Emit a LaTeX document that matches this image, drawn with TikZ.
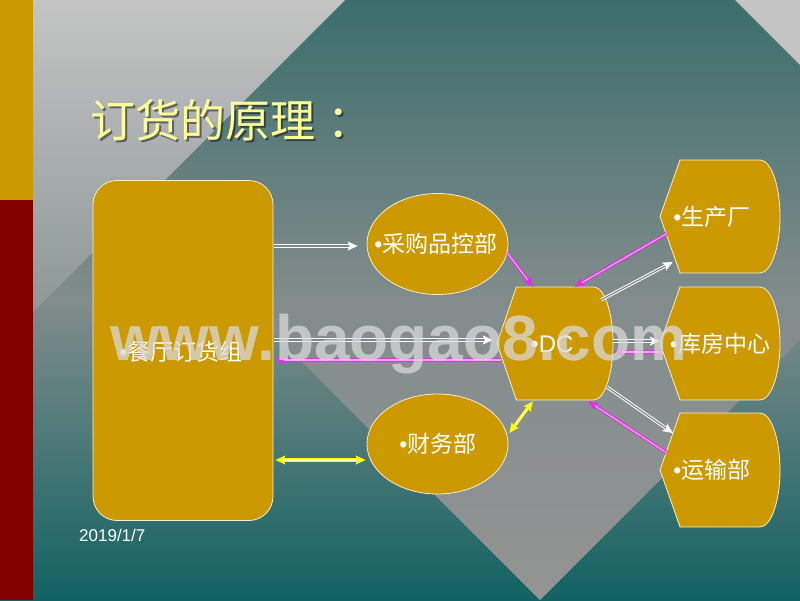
\documentclass[tikz,border=0pt]{standalone}
\usepackage{fontspec}
\setmainfont{Liberation Sans}
\newfontfamily\cjk{Noto Sans CJK SC}
\usetikzlibrary{arrows.meta,calc,shapes.geometric}
\definecolor{gold}{HTML}{CC9900}
\definecolor{darkred}{HTML}{800000}
\definecolor{tealtop}{HTML}{3B6E6C}
\definecolor{tealmid}{HTML}{828C8C}
\definecolor{tealbot}{HTML}{126262}
\definecolor{lgray}{HTML}{C4C4C4}
\definecolor{lgraybot}{HTML}{8E9797}
\definecolor{trigray}{HTML}{949494}
\definecolor{outl}{HTML}{F8EEC8}
\definecolor{titley}{HTML}{FFFF99}
\definecolor{gapc}{HTML}{7C8888}
\definecolor{magc}{HTML}{E62EE6}
\definecolor{maggap}{HTML}{F0A8F0}
\definecolor{yelc}{HTML}{FFFF00}
\definecolor{yelgap}{HTML}{FFFFB0}
\newcommand\dispshape[5]{%
  \draw[shp] (#2,{#3+#5/2}) -- ({#2+#4/6},#3) -- ({#2+#4*5/6},#3)
    .. controls ({#2+#4*5/6+0.5523*#4/6},#3) and ({#2+#4},{#3+#5/2-0.5523*#5/2}) .. ({#2+#4},{#3+#5/2})
    .. controls ({#2+#4},{#3+#5/2+0.5523*#5/2}) and ({#2+#4*5/6+0.5523*#4/6},{#3+#5}) .. ({#2+#4*5/6},{#3+#5})
    -- ({#2+#4/6},{#3+#5}) -- cycle;
  \node[minimum width=#4pt, minimum height=#5pt, inner sep=0pt] (#1) at ({#2+#4/2},{#3+#5/2}) {};}
\begin{document}
\begin{tikzpicture}[x=1pt,y=-1pt,
  shp/.style={fill=gold, draw=outl, line width=0.8pt},
  rrect/.style={shp, rectangle, rounded corners=24pt, inner sep=0pt},
  ell/.style={shp, ellipse, inner sep=0pt},
  lbl/.style={text=white, inner sep=0pt, font=\fontsize{23}{23}\selectfont},
  tip/.style={-{Stealth[length=10pt,width=9pt,inset=2pt]}},
  bitip/.style={{Stealth[length=10pt,width=9pt,inset=2pt]}-{Stealth[length=10pt,width=9pt,inset=2pt]}},
  wline/.style={draw=white, double=gapc, double distance=1.2pt, line width=1pt},
  mline/.style={draw=magc, double=maggap, double distance=1.2pt, line width=1pt},
  yline/.style={draw=yelc, double=yelgap, double distance=1.2pt, line width=1pt}]
\useasboundingbox (0,0) rectangle (800,600);
\clip (0,0) rectangle (800,600);
% background
\shade[shading=axis, top color=tealtop, bottom color=tealmid] (0,0) rectangle (800,300.5);
\shade[shading=axis, top color=tealmid, bottom color=tealbot] (0,300) rectangle (800,600);
\shade[shading=axis, top color=lgray, bottom color=lgraybot] (33,0) -- (345,0) -- (33,312) -- cycle;
\fill[lgray] (735,0) -- (800,0) -- (800,65) -- cycle;
\shade[shading=axis, top color=tealmid, bottom color=trigray] (240,300) -- (800,300) -- (800,340) -- (540,600) -- cycle;
\fill[gold] (0,0) rectangle (33,200);
\fill[darkred] (0,200) rectangle (33,600);
% title
\node[anchor=west, inner sep=0pt, text=black, text opacity=0.45, font=\cjk\fontsize{45}{45}\selectfont] (titleshadow) at (92.5,122.5) {订货的原理\kern12pt：};
\node[anchor=west, inner sep=0pt, text=titley, font=\cjk\fontsize{45}{45}\selectfont] (title) at (90,120) {订货的原理\kern12pt：};
% shapes
\node[rrect, minimum width=180pt, minimum height=340pt] (rest) at (183,350.5) {};
\node[lbl] (restt) at (181,352) {•{\cjk 餐厅订货组}};
\node[ell, minimum width=141pt, minimum height=101pt] (cg) at (437.5,244) {};
\node[lbl] (cgt) at (436,244) {•{\cjk 采购品控部}};
\node[ell, minimum width=141pt, minimum height=100pt] (cw) at (437.5,444) {};
\node[lbl] (cwt) at (438,444) {•{\cjk 财务部}};
\dispshape{dc}{497}{287}{116}{113}
\node[lbl, font=\fontsize{24}{24}\selectfont] (dct) at (552,344) {•DC};
\dispshape{sc}{660}{160}{120}{113}
\node[lbl] (sct) at (712,217) {•{\cjk 生产厂}};
\dispshape{kf}{660}{287}{120}{113}
\node[lbl] (kft) at (720,344) {•{\cjk 库房中心}};
\dispshape{ys}{660}{413}{120}{114}
\node[lbl] (yst) at (712,470) {•{\cjk 运输部}};
% connectors
\draw[wline, tip] ($(rest.east |- cg.west)+(1,2)$) -- ($(cg.west)+(-9,2)$);
\draw[wline, tip] ($(rest.east |- dc.west)+(1,-3.5)$) -- ($(dc.west)+(-4,-3.5)$);
\draw[mline, tip] ($(dc.west)+(4,16.5)$) -- ($(rest.east |- dc.west)+(2,16.5)$);
\draw[yline, bitip] ($(rest.east |- cw.west)+(2,16)$) -- ($(cw.west)+(-1,16)$);
\draw[yline, bitip] ($(cw.east)+(1,-11)$) -- ($(dc.south west)+(36,1)$);
\draw[mline, tip] ($(cg.east)+(-1,9)$) -- ($(dc.north west)+(36,0)$);
\draw[mline, tip] ($(sc.west)+(7,17)$) -- ($(dc.north west)+(78,0)$);
\draw[wline, tip] ($(dc.north east)+(-12,13)$) -- ($(sc.west)+(13,45.5)$);
\draw[wline, tip] ($(dc.east)+(0,-2.5)$) -- ($(kf.west)+(0,-2.5)$);
\draw[mline, tip] ($(kf.west)+(3,8.5)$) -- ($(dc.east)+(0,8.5)$);
\draw[wline, tip] ($(dc.south east)+(-6,-13)$) -- ($(ys.west)+(13,-37)$);
\draw[mline, tip] ($(ys.west)+(7,-17)$) -- ($(dc.south east)+(-25,1)$);
% date
\node[anchor=west, inner sep=0pt, text=white, font=\fontsize{17}{17}\selectfont] (date) at (79,535) {2019/1/7};
% watermark
\node[anchor=base west, inner sep=0pt, text=black!15, text opacity=0.75, font=\bfseries\fontsize{64}{64}\selectfont] (wm) at (110,360) {www.baogao8.com};
\end{tikzpicture}
\end{document}
